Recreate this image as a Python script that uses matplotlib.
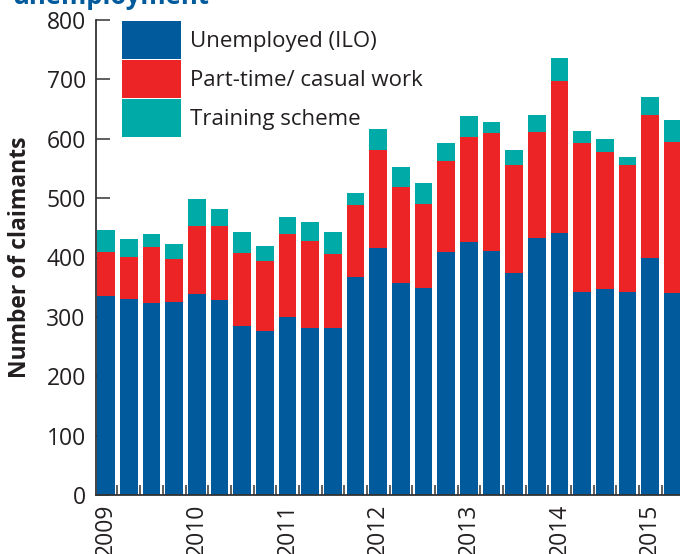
import numpy as np
import matplotlib
matplotlib.use("Agg")
from matplotlib import pyplot as plt

# quarterly claimant counts, 2009 Q1 .. 2015 Q2
years = ['2009', '2010', '2011', '2012', '2013', '2014', '2015']
unemployed = [335, 330, 323, 325, 338, 329, 285, 276, 300, 281, 281, 367, 416,
              357, 349, 410, 426, 411, 374, 433, 442, 342, 347, 342, 400, 340]
part_time = [75, 71, 95, 72, 115, 124, 122, 118, 140, 146, 125, 121, 165,
             162, 141, 152, 177, 198, 181, 179, 255, 251, 231, 214, 240, 255]
training = [36, 30, 21, 26, 45, 29, 36, 25, 28, 33, 37, 20, 35,
            33, 35, 31, 35, 19, 26, 28, 39, 20, 21, 13, 30, 36]
labels = ['Unemployed (ILO)', 'Part-time/ casual work', 'Training scheme']

blue = '#005a9c'
red = '#ed2426'
teal = '#00aaa6'
dark = '#231f20'

plt.rcParams['font.family'] = ['Open Sans', 'DejaVu Sans']

fig = plt.figure(figsize=(6.8, 5.54), dpi=100)
ax = fig.add_axes([95.5/680, 59/554, 1 - 95.5/680, 475/554])

x = np.arange(len(unemployed))
u = np.array(unemployed)
p = np.array(part_time)
t = np.array(training)
w = 0.78
b1 = ax.bar(x, u, w, color=blue, linewidth=0, label=labels[0])
b2 = ax.bar(x, p, w, bottom=u, color=red, linewidth=0, label=labels[1])
b3 = ax.bar(x, t, w, bottom=u + p, color=teal, linewidth=0, label=labels[2])

ax.set_xlim(-0.47, 25.31)
ax.set_ylim(0, 800)
ax.set_yticks(np.arange(0, 801, 100))
ax.set_xticks(x[::4])
ax.set_xticklabels(years, rotation=90, va='top')
ax.set_xticks(x[:-1] + 0.5, minor=True)

ax.set_axisbelow(True)
for s in ['top', 'right']:
    ax.spines[s].set_visible(False)
for s in ['left', 'bottom']:
    ax.spines[s].set_color('#333333')
    ax.spines[s].set_linewidth(1.3)

ax.tick_params(axis='y', direction='in', length=10, width=1.1, color='#333333',
               labelsize=16.5, labelcolor=dark, pad=7)
ax.tick_params(axis='x', which='major', length=0, labelsize=16.5,
               labelcolor=dark, pad=6)
ax.tick_params(axis='x', which='minor', direction='in', length=7, width=1.1,
               color='#333333')

ax.set_ylabel('Number of claimants', fontsize=16.5, fontweight='bold', color=dark)
ax.yaxis.set_label_coords((32 - 95.5) / 584, 0.5)

fig.text(12/680, 1 - 4/554, 'unemployment', fontsize=18.5, fontweight='bold',
         color=blue, va='baseline', ha='left')

leg = ax.legend(handles=[b1, b2, b3], loc='upper left',
                bbox_to_anchor=(122/680, 1 - 21/554), bbox_transform=fig.transFigure,
                frameon=False, fontsize=16, borderpad=0, borderaxespad=0,
                handlelength=2.64, handleheight=2.23, handletextpad=0.4,
                labelspacing=0.06)
for txt in leg.get_texts():
    txt.set_color(dark)

fig.savefig('out.png', dpi=100)
